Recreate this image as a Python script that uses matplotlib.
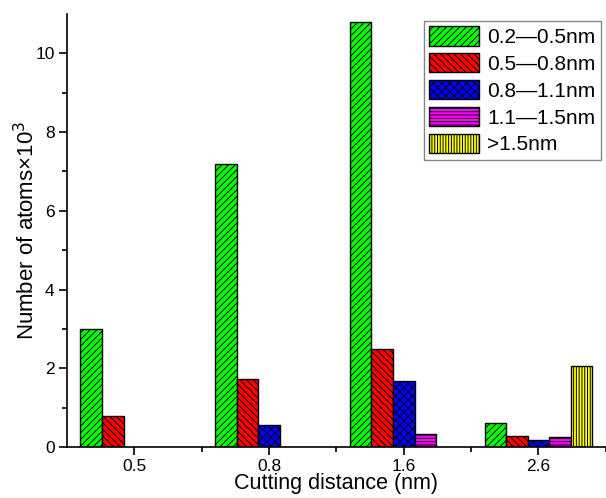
import numpy as np
import matplotlib.pyplot as plt
import matplotlib as mpl

plt.rcParams['font.family'] = ['Liberation Sans', 'DejaVu Sans']
mpl.rcParams['hatch.linewidth'] = 0.7

# data (values x10^3)
categories = ['0.5', '0.8', '1.6', '2.6']
labels = ['0.2\u20140.5nm', '0.5\u20140.8nm', '0.8\u20141.1nm', '1.1\u20141.5nm', '>1.5nm']
s_02_05 = [3.0, 7.2, 10.8, 0.6]
s_05_08 = [0.8, 1.72, 2.5, 0.27]
s_08_11 = [0.0, 0.55, 1.68, 0.18]
s_11_15 = [0.0, 0.0, 0.33, 0.25]
s_gt15 = [0.0, 0.0, 0.0, 2.05]

series = [s_02_05, s_05_08, s_08_11, s_11_15, s_gt15]
colors = ['#00ff00', '#ff0000', '#0000ff', '#ff00ff', '#ffff00']
hatches = ['/////', '\\\\\\\\\\', 'xxxx', '-----', '||||||']

fig = plt.figure(figsize=(6.06, 4.98), dpi=100)
ax = fig.add_axes([0.1106, 0.1024, 0.889, 0.8695])

x = np.arange(1, len(categories) + 1)
width = 0.16
for i, (vals, c, h, lab) in enumerate(zip(series, colors, hatches, labels)):
    vals = np.array(vals)
    pos = x + (i - 2) * width
    mask = vals > 0
    ax.bar(pos[mask], vals[mask], width, color=c, edgecolor='black',
           hatch=h, linewidth=1.0, label=lab)

ax.set_xlim(0.5, 4.49)
ax.set_ylim(0, 11)
ax.set_xticks(x)
ax.set_xticklabels(categories)
ax.set_xticks(np.arange(1.5, 4.6, 1.0), minor=True)
ax.set_yticks(np.arange(0, 11, 2))
ax.set_yticks(np.arange(1, 11, 2), minor=True)
ax.tick_params(axis='both', which='major', direction='out', length=5.5, width=1.2, labelsize=12.5)
ax.tick_params(axis='x', which='major', pad=3)
ax.tick_params(axis='both', which='minor', direction='out', length=3.5, width=1.2)
ax.spines['top'].set_visible(False)
ax.spines['right'].set_visible(False)
ax.spines['left'].set_linewidth(1.2)
ax.spines['bottom'].set_linewidth(1.2)

ax.set_xlabel('Cutting distance (nm)', fontsize=15.5, labelpad=-0.5)
ax.set_ylabel('Number of atoms\u00d710$^3$', fontsize=16, labelpad=-3)

leg = ax.legend(loc='upper right', bbox_to_anchor=(0.991, 0.984), fontsize=15,
                handlelength=2.4, handleheight=1.06, labelspacing=0.29,
                handletextpad=0.4, borderpad=0.25, borderaxespad=0,
                fancybox=False, edgecolor='#888888', framealpha=1)
leg.get_frame().set_linewidth(1.0)

fig.savefig('out.png', dpi=100)
